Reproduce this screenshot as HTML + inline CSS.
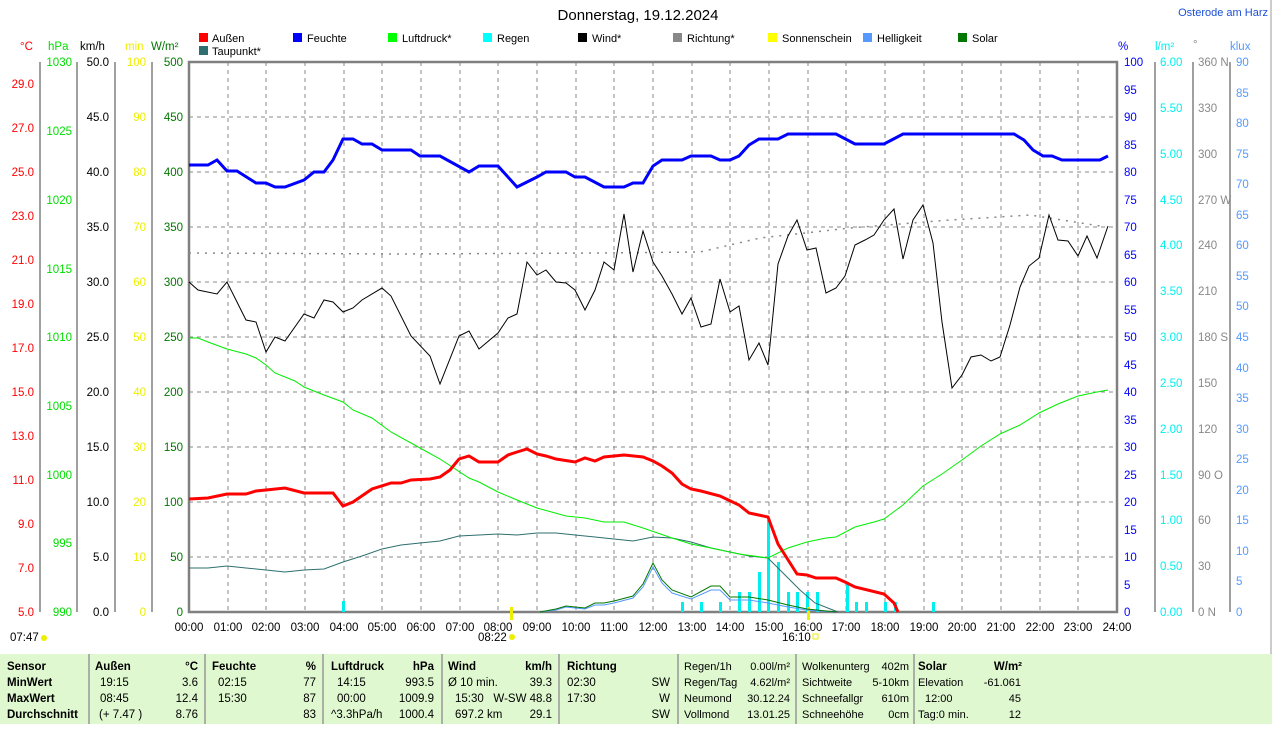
<!DOCTYPE html><html><head><meta charset="utf-8"><style>
body{margin:0;background:#fff;width:1274px;height:724px;overflow:hidden;font-family:"Liberation Sans",sans-serif}
svg text{font-family:"Liberation Sans",sans-serif;font-size:11.5px}
</style></head><body>
<svg width="1274" height="724" xmlns="http://www.w3.org/2000/svg">
<rect x="0" y="0" width="1274" height="724" fill="#fff"/>
<text x="638" y="20" text-anchor="middle" style="font-size:15px">Donnerstag, 19.12.2024</text>
<text x="1268" y="16" text-anchor="end" fill="#1a4fd8" style="font-size:11px">Osterode am Harz</text>
<line x1="1271" y1="0" x2="1271" y2="654" stroke="#ccc" stroke-width="2"/>
<g>
<rect x="199" y="33" width="9" height="9" fill="#f00"/><text x="212" y="42" style="font-size:11px">Außen</text>
<rect x="199" y="46" width="9" height="9" fill="#2f6f6f"/><text x="212" y="55" style="font-size:11px">Taupunkt*</text>
<rect x="293" y="33" width="9" height="9" fill="#00f"/><text x="307" y="42" style="font-size:11px">Feuchte</text>
<rect x="388" y="33" width="9" height="9" fill="#0f0"/><text x="402" y="42" style="font-size:11px">Luftdruck*</text>
<rect x="483" y="33" width="9" height="9" fill="#0ff"/><text x="497" y="42" style="font-size:11px">Regen</text>
<rect x="578" y="33" width="9" height="9" fill="#000"/><text x="592" y="42" style="font-size:11px">Wind*</text>
<rect x="673" y="33" width="9" height="9" fill="#888"/><text x="687" y="42" style="font-size:11px">Richtung*</text>
<rect x="768" y="33" width="9" height="9" fill="#ff0"/><text x="782" y="42" style="font-size:11px">Sonnenschein</text>
<rect x="863" y="33" width="9" height="9" fill="#59f"/><text x="877" y="42" style="font-size:11px">Helligkeit</text>
<rect x="958" y="33" width="9" height="9" fill="#070"/><text x="972" y="42" style="font-size:11px">Solar</text>
</g>
<text x="20" y="50" fill="#f00">°C</text><text x="48" y="50" fill="#0d0">hPa</text><text x="80" y="50">km/h</text><text x="125" y="50" fill="#ee0">min</text><text x="151" y="50" fill="#070">W/m²</text>
<text x="1118" y="50" fill="#00f">%</text><text x="1155" y="50" fill="#0ee">l/m²</text><text x="1193" y="48" fill="#888">°</text><text x="1230" y="50" fill="#59f">klux</text>
<g stroke="#888" stroke-dasharray="4,4" stroke-width="1">
<line x1="189" y1="117" x2="1117" y2="117"/><line x1="189" y1="172" x2="1117" y2="172"/><line x1="189" y1="227" x2="1117" y2="227"/><line x1="189" y1="282" x2="1117" y2="282"/><line x1="189" y1="337" x2="1117" y2="337"/><line x1="189" y1="392" x2="1117" y2="392"/><line x1="189" y1="447" x2="1117" y2="447"/><line x1="189" y1="502" x2="1117" y2="502"/><line x1="189" y1="557" x2="1117" y2="557"/>
<line x1="228" y1="62" x2="228" y2="612"/><line x1="266" y1="62" x2="266" y2="612"/><line x1="305" y1="62" x2="305" y2="612"/><line x1="344" y1="62" x2="344" y2="612"/><line x1="382" y1="62" x2="382" y2="612"/><line x1="421" y1="62" x2="421" y2="612"/><line x1="460" y1="62" x2="460" y2="612"/><line x1="498" y1="62" x2="498" y2="612"/><line x1="537" y1="62" x2="537" y2="612"/><line x1="576" y1="62" x2="576" y2="612"/><line x1="614" y1="62" x2="614" y2="612"/><line x1="653" y1="62" x2="653" y2="612"/><line x1="692" y1="62" x2="692" y2="612"/><line x1="730" y1="62" x2="730" y2="612"/><line x1="769" y1="62" x2="769" y2="612"/><line x1="808" y1="62" x2="808" y2="612"/><line x1="846" y1="62" x2="846" y2="612"/><line x1="885" y1="62" x2="885" y2="612"/><line x1="924" y1="62" x2="924" y2="612"/><line x1="962" y1="62" x2="962" y2="612"/><line x1="1001" y1="62" x2="1001" y2="612"/><line x1="1040" y1="62" x2="1040" y2="612"/><line x1="1078" y1="62" x2="1078" y2="612"/>
</g>
<rect x="189" y="62" width="928" height="550" fill="none" stroke="#808080" stroke-width="2.5"/>
<g stroke="#808080" stroke-width="1.5">
<line x1="40" y1="62" x2="40" y2="612"/><line x1="77" y1="62" x2="77" y2="612"/><line x1="115" y1="62" x2="115" y2="612"/><line x1="152" y1="62" x2="152" y2="612"/>
<line x1="1155" y1="62" x2="1155" y2="612"/><line x1="1193" y1="62" x2="1193" y2="612"/><line x1="1230" y1="62" x2="1230" y2="612"/>
</g>
<g fill="#f00" text-anchor="end">
<text x="34" y="88">29.0</text><text x="34" y="132">27.0</text><text x="34" y="176">25.0</text><text x="34" y="220">23.0</text><text x="34" y="264">21.0</text><text x="34" y="308">19.0</text><text x="34" y="352">17.0</text><text x="34" y="396">15.0</text><text x="34" y="440">13.0</text><text x="34" y="484">11.0</text><text x="34" y="528">9.0</text><text x="34" y="572">7.0</text><text x="34" y="616">5.0</text>
</g>
<g fill="#0d0" text-anchor="end">
<text x="72" y="66">1030</text><text x="72" y="135">1025</text><text x="72" y="204">1020</text><text x="72" y="273">1015</text><text x="72" y="341">1010</text><text x="72" y="410">1005</text><text x="72" y="479">1000</text><text x="72" y="547">995</text><text x="72" y="616">990</text>
</g>
<g text-anchor="end">
<text x="109" y="66">50.0</text><text x="109" y="121">45.0</text><text x="109" y="176">40.0</text><text x="109" y="231">35.0</text><text x="109" y="286">30.0</text><text x="109" y="341">25.0</text><text x="109" y="396">20.0</text><text x="109" y="451">15.0</text><text x="109" y="506">10.0</text><text x="109" y="561">5.0</text><text x="109" y="616">0.0</text>
</g>
<g fill="#ee0" text-anchor="end">
<text x="146" y="66">100</text><text x="146" y="121">90</text><text x="146" y="176">80</text><text x="146" y="231">70</text><text x="146" y="286">60</text><text x="146" y="341">50</text><text x="146" y="396">40</text><text x="146" y="451">30</text><text x="146" y="506">20</text><text x="146" y="561">10</text><text x="146" y="616">0</text>
</g>
<g fill="#070" text-anchor="end">
<text x="183" y="66">500</text><text x="183" y="121">450</text><text x="183" y="176">400</text><text x="183" y="231">350</text><text x="183" y="286">300</text><text x="183" y="341">250</text><text x="183" y="396">200</text><text x="183" y="451">150</text><text x="183" y="506">100</text><text x="183" y="561">50</text><text x="183" y="616">0</text>
</g>
<g fill="#00f">
<text x="1124" y="66">100</text><text x="1124" y="94">95</text><text x="1124" y="121">90</text><text x="1124" y="149">85</text><text x="1124" y="176">80</text><text x="1124" y="204">75</text><text x="1124" y="231">70</text><text x="1124" y="259">65</text><text x="1124" y="286">60</text><text x="1124" y="314">55</text><text x="1124" y="341">50</text><text x="1124" y="369">45</text><text x="1124" y="396">40</text><text x="1124" y="424">35</text><text x="1124" y="451">30</text><text x="1124" y="479">25</text><text x="1124" y="506">20</text><text x="1124" y="534">15</text><text x="1124" y="561">10</text><text x="1124" y="589">5</text><text x="1124" y="616">0</text>
</g>
<g fill="#0ee">
<text x="1160" y="66">6.00</text><text x="1160" y="112">5.50</text><text x="1160" y="158">5.00</text><text x="1160" y="204">4.50</text><text x="1160" y="249">4.00</text><text x="1160" y="295">3.50</text><text x="1160" y="341">3.00</text><text x="1160" y="387">2.50</text><text x="1160" y="433">2.00</text><text x="1160" y="479">1.50</text><text x="1160" y="524">1.00</text><text x="1160" y="570">0.50</text><text x="1160" y="616">0.00</text>
</g>
<g fill="#888">
<text x="1198" y="66">360 N</text><text x="1198" y="112">330</text><text x="1198" y="158">300</text><text x="1198" y="204">270 W</text><text x="1198" y="249">240</text><text x="1198" y="295">210</text><text x="1198" y="341">180 S</text><text x="1198" y="387">150</text><text x="1198" y="433">120</text><text x="1198" y="479">90 O</text><text x="1198" y="524">60</text><text x="1198" y="570">30</text><text x="1198" y="616">0 N</text>
</g>
<g fill="#59f">
<text x="1236" y="66">90</text><text x="1236" y="97">85</text><text x="1236" y="127">80</text><text x="1236" y="158">75</text><text x="1236" y="188">70</text><text x="1236" y="219">65</text><text x="1236" y="249">60</text><text x="1236" y="280">55</text><text x="1236" y="310">50</text><text x="1236" y="341">45</text><text x="1236" y="372">40</text><text x="1236" y="402">35</text><text x="1236" y="433">30</text><text x="1236" y="463">25</text><text x="1236" y="494">20</text><text x="1236" y="524">15</text><text x="1236" y="555">10</text><text x="1236" y="585">5</text><text x="1236" y="616">0</text>
</g>
<g text-anchor="middle">
<text x="189" y="631">00:00</text><text x="228" y="631">01:00</text><text x="266" y="631">02:00</text><text x="305" y="631">03:00</text><text x="344" y="631">04:00</text><text x="382" y="631">05:00</text><text x="421" y="631">06:00</text><text x="460" y="631">07:00</text><text x="498" y="631">08:00</text><text x="537" y="631">09:00</text><text x="576" y="631">10:00</text><text x="614" y="631">11:00</text><text x="653" y="631">12:00</text><text x="692" y="631">13:00</text><text x="730" y="631">14:00</text><text x="769" y="631">15:00</text><text x="808" y="631">16:00</text><text x="846" y="631">17:00</text><text x="885" y="631">18:00</text><text x="924" y="631">19:00</text><text x="962" y="631">20:00</text><text x="1001" y="631">21:00</text><text x="1040" y="631">22:00</text><text x="1078" y="631">23:00</text><text x="1117" y="631">24:00</text>
</g>
<text x="10" y="641">07:47</text><circle cx="44" cy="638" r="3" fill="#ee0"/>
<text x="478" y="641">08:22</text><circle cx="512" cy="637" r="3" fill="#ee0"/>
<text x="782" y="641">16:10</text><rect x="813" y="634" width="5" height="5" fill="none" stroke="#ee0"/>
<g fill="#0ee">
<rect x="342" y="601" width="3" height="11"/><rect x="681" y="602" width="3" height="10"/><rect x="700" y="602" width="3" height="10"/><rect x="719" y="602" width="3" height="10"/><rect x="738" y="592" width="3" height="20"/><rect x="748" y="592" width="3" height="20"/><rect x="758" y="572" width="3" height="40"/><rect x="767" y="520" width="3" height="92"/><rect x="777" y="562" width="3" height="50"/><rect x="787" y="592" width="3" height="20"/><rect x="796" y="592" width="3" height="20"/><rect x="806" y="592" width="3" height="20"/><rect x="816" y="592" width="3" height="20"/><rect x="846" y="582" width="3" height="30"/><rect x="855" y="602" width="3" height="10"/><rect x="865" y="602" width="3" height="10"/><rect x="884" y="602" width="3" height="10"/><rect x="894" y="602" width="3" height="10"/><rect x="932" y="602" width="3" height="10"/>
</g>
<rect x="510" y="607" width="3" height="13" fill="#ee0"/><rect x="807" y="607" width="3" height="13" fill="#ee0"/>
<polyline fill="none" stroke="#888" stroke-width="1.5" stroke-dasharray="2,6" points="189,253 400,254 600,253 700,252 760,238 850,228 950,220 1030,215 1100,226"/>
<polyline fill="none" stroke="#59f" stroke-width="1" points="540,612 556,610 566,607 575,608 585,609 595,605 604,605 614,603 633,598 643,587 653,567 662,583 672,593 691,599 711,590 720,590 730,600 749,600 768,603 788,607 807,610 836,612"/>
<polyline fill="none" stroke="#070" stroke-width="1" points="540,612 556,609 566,606 575,607 585,608 595,603 604,603 614,601 633,596 643,584 653,563 662,580 672,590 691,597 711,586 720,586 730,597 749,597 768,600 788,605 807,609 836,612"/>
<polyline fill="none" stroke="#2f6f6f" stroke-width="1" points="189,568 208,568 227,566 246,568 266,570 285,572 304,570 324,569 343,562 362,556 382,549 401,545 420,543 440,541 459,536 479,535 498,534 517,535 537,533 556,533 575,535 595,537 614,539 633,541 653,537 672,538 691,542 711,548 730,552 749,556 768,558 780,570 800,590 815,603 838,612"/>
<polyline fill="none" stroke="#0e0" stroke-width="1" points="189,338 198,338 208,342 227,349 246,354 256,358 266,365 275,373 295,381 304,387 324,395 343,402 353,410 372,418 391,432 420,448 440,459 469,478 479,482 498,492 517,500 537,508 566,516 585,518 604,522 624,522 643,528 672,538 691,544 711,548 739,554 768,558 788,548 807,542 826,538 836,537 855,527 874,522 884,519 903,505 923,486 942,474 962,460 981,446 1000,434 1020,425 1039,413 1058,404 1078,396 1097,392 1108,390"/>
<polyline fill="none" stroke="#f00" stroke-width="3" points="189,499 208,498 227,494 246,494 256,491 266,490 285,488 304,493 333,493 343,506 353,502 372,489 391,483 401,483 411,480 430,479 440,477 450,470 459,459 469,456 479,462 498,462 508,455 517,452 527,449 537,454 546,456 556,459 575,462 585,458 595,461 604,457 624,455 643,457 653,461 662,466 672,473 682,484 691,489 701,491 720,496 739,505 749,513 768,517 778,544 797,574 807,575 816,578 836,578 845,582 855,587 884,594 894,603 898,612"/>
<polyline fill="none" stroke="#000" stroke-width="1" points="189,282 198,290 217,294 227,282 246,320 256,322 266,352 275,337 285,341 304,314 314,318 324,300 333,302 343,312 353,308 362,300 382,288 391,296 411,336 430,356 440,384 459,336 469,331 479,349 498,333 508,318 517,314 527,262 537,275 546,270 556,282 566,283 575,290 585,310 595,290 604,262 614,270 624,214 633,272 643,231 653,262 662,276 672,294 682,314 691,298 701,327 711,324 720,279 730,312 739,306 749,360 759,343 768,365 778,264 788,236 797,220 807,250 816,248 826,293 836,288 845,276 855,245 865,240 874,235 884,220 894,209 903,259 913,220 923,205 933,243 942,322 952,388 962,375 971,357 981,355 991,361 1000,357 1010,325 1020,287 1029,266 1039,258 1049,215 1058,240 1068,241 1078,256 1087,236 1097,258 1108,226"/>
<polyline fill="none" stroke="#00f" stroke-width="3" points="189,165 208,165 217,160 227,171 237,171 256,183 266,183 275,187 285,187 304,180 314,172 324,172 333,160 343,139 353,139 362,144 372,144 382,150 411,150 420,156 440,156 469,172 479,166 498,166 517,187 537,177 546,172 566,172 575,177 585,177 604,187 624,187 633,183 643,183 653,166 662,160 682,160 691,156 711,156 720,160 730,160 739,156 749,145 759,139 778,139 788,134 836,134 855,144 884,144 903,134 1014,134 1024,140 1033,150 1043,156 1052,156 1062,160 1100,160 1108,156"/>
<rect x="0" y="654" width="1272" height="70" fill="#e0f8d0"/>
<g stroke="#999" stroke-width="1.5"><line x1="89" y1="654" x2="89" y2="724"/><line x1="205" y1="654" x2="205" y2="724"/><line x1="323" y1="654" x2="323" y2="724"/><line x1="442" y1="654" x2="442" y2="724"/><line x1="559" y1="654" x2="559" y2="724"/><line x1="678" y1="654" x2="678" y2="724"/><line x1="796" y1="654" x2="796" y2="724"/><line x1="914" y1="654" x2="914" y2="724"/></g>
<g font-weight="bold"><text x="7" y="670">Sensor</text><text x="7" y="686">MinWert</text><text x="7" y="702">MaxWert</text><text x="7" y="718">Durchschnitt</text>
<text x="95" y="670">Außen</text><text x="198" y="670" text-anchor="end">°C</text><text x="212" y="670">Feuchte</text><text x="316" y="670" text-anchor="end">%</text><text x="331" y="670">Luftdruck</text><text x="434" y="670" text-anchor="end">hPa</text><text x="448" y="670">Wind</text><text x="552" y="670" text-anchor="end">km/h</text><text x="567" y="670">Richtung</text><text x="918" y="670">Solar</text><text x="1022" y="670" text-anchor="end">W/m²</text></g>
<g>
<text x="100" y="686">19:15</text><text x="198" y="686" text-anchor="end">3.6</text><text x="218" y="686">02:15</text><text x="316" y="686" text-anchor="end">77</text><text x="337" y="686">14:15</text><text x="434" y="686" text-anchor="end">993.5</text><text x="448" y="686">Ø 10 min.</text><text x="552" y="686" text-anchor="end">39.3</text><text x="567" y="686">02:30</text><text x="670" y="686" text-anchor="end">SW</text>
<text x="100" y="702">08:45</text><text x="198" y="702" text-anchor="end">12.4</text><text x="218" y="702">15:30</text><text x="316" y="702" text-anchor="end">87</text><text x="337" y="702">00:00</text><text x="434" y="702" text-anchor="end">1009.9</text><text x="455" y="702">15:30</text><text x="552" y="702" text-anchor="end">W-SW 48.8</text><text x="567" y="702">17:30</text><text x="670" y="702" text-anchor="end">W</text>
<text x="99" y="718">(+ 7.47 )</text><text x="198" y="718" text-anchor="end">8.76</text><text x="316" y="718" text-anchor="end">83</text><text x="331" y="718">^3.3hPa/h</text><text x="434" y="718" text-anchor="end">1000.4</text><text x="455" y="718">697.2 km</text><text x="552" y="718" text-anchor="end">29.1</text><text x="670" y="718" text-anchor="end">SW</text>
<g style="font-size:11px">
<text x="684" y="670" style="font-size:11px">Regen/1h</text><text x="790" y="670" text-anchor="end" style="font-size:11px">0.00l/m²</text><text x="684" y="686" style="font-size:11px">Regen/Tag</text><text x="790" y="686" text-anchor="end" style="font-size:11px">4.62l/m²</text><text x="684" y="702" style="font-size:11px">Neumond</text><text x="790" y="702" text-anchor="end" style="font-size:11px">30.12.24</text><text x="684" y="718" style="font-size:11px">Vollmond</text><text x="790" y="718" text-anchor="end" style="font-size:11px">13.01.25</text>
<text x="802" y="670" style="font-size:11px">Wolkenunterg</text><text x="909" y="670" text-anchor="end" style="font-size:11px">402m</text><text x="802" y="686" style="font-size:11px">Sichtweite</text><text x="909" y="686" text-anchor="end" style="font-size:11px">5-10km</text><text x="802" y="702" style="font-size:11px">Schneefallgr</text><text x="909" y="702" text-anchor="end" style="font-size:11px">610m</text><text x="802" y="718" style="font-size:11px">Schneehöhe</text><text x="909" y="718" text-anchor="end" style="font-size:11px">0cm</text>
<text x="918" y="686" style="font-size:11px">Elevation</text><text x="1021" y="686" text-anchor="end" style="font-size:11px">-61.061</text><text x="925" y="702" style="font-size:11px">12:00</text><text x="1021" y="702" text-anchor="end" style="font-size:11px">45</text><text x="918" y="718" style="font-size:11px">Tag:0 min.</text><text x="1021" y="718" text-anchor="end" style="font-size:11px">12</text>
</g>
</g>
</svg>
</body></html>
